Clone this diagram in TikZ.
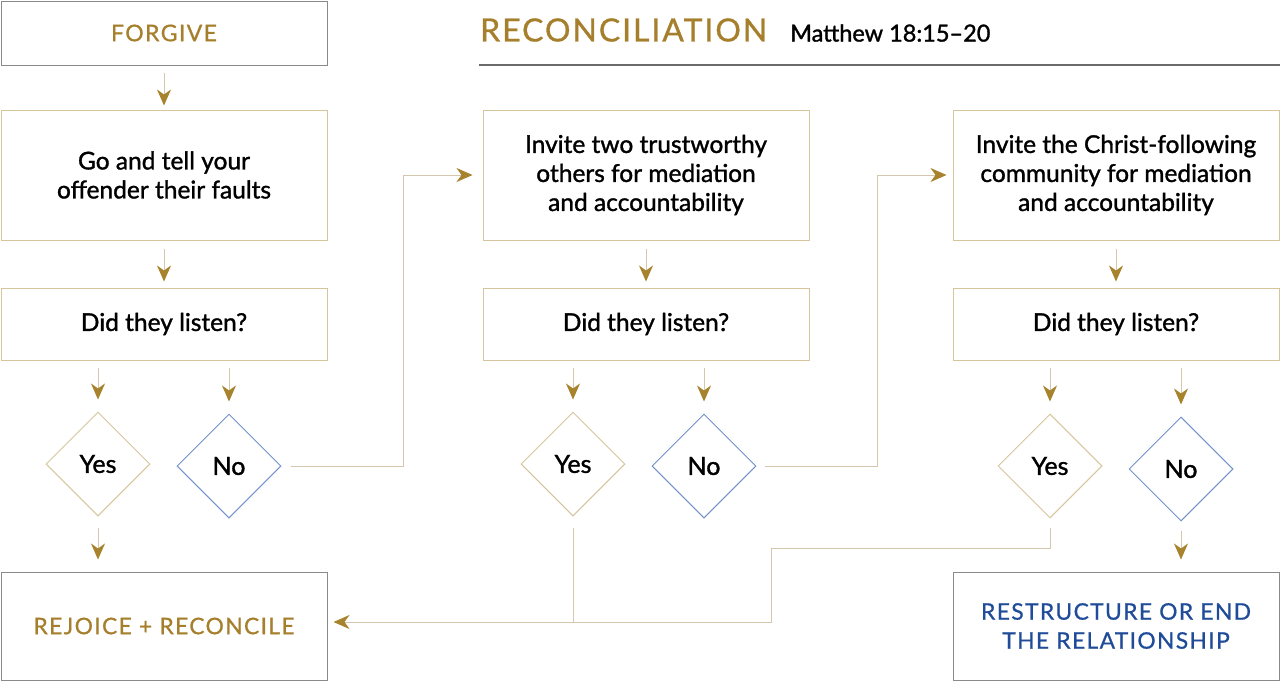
\documentclass[tikz,border=0pt]{standalone}
\usepackage{fontspec}
\setmainfont{Lato}
\newfontfamily\bodyfont[FakeBold=1.3,Ligatures=TeX]{Lato}
\newfontfamily\capsfont[LetterSpace=6,FakeBold=0.8,Ligatures=TeX]{Lato}
\usetikzlibrary{arrows.meta,shapes.geometric,calc}

\definecolor{goldtext}{HTML}{A67F2C}
\definecolor{goldtip}{HTML}{A8832E}
\definecolor{tanline}{HTML}{D6C49C}
\definecolor{linktan}{HTML}{D5C6AE}
\definecolor{framegray}{HTML}{8A8A8A}
\definecolor{rulegray}{HTML}{6A6A6A}
\definecolor{noblue}{HTML}{7391CC}
\definecolor{endblue}{HTML}{1F4B98}

\tikzset{
  box/.style={draw=tanline, line width=1pt, minimum width=326pt, inner sep=0pt,
    align=center, font=\bodyfont\fontsize{24.5}{29}\selectfont},
  endbox/.style={box, draw=framegray, minimum height=108pt,
    font=\capsfont\fontsize{22.8}{29}\selectfont},
  yesdiam/.style={diamond, draw=tanline, line width=1pt, aspect=1, inner sep=0pt,
    minimum width=104pt, minimum height=104pt, font=\bodyfont\fontsize{25}{28}\selectfont},
  nodiam/.style={yesdiam, draw=noblue},
  link/.style={draw=linktan, line width=1pt},
  flow/.style={link, -{Stealth[length=16pt,width=14pt,inset=5pt,color=goldtip]}}
}

\begin{document}
\begin{tikzpicture}[x=1pt,y=-1pt]
  \useasboundingbox (0,0) rectangle (1280,681);

  % heading
  \node[anchor=west, inner sep=0pt, text=goldtext,
    font=\capsfont\fontsize{32}{32}\selectfont] (title) at (480,30) {RECONCILIATION};
  \node[anchor=west, inner sep=0pt, font=\bodyfont\fontsize{23.5}{24}\selectfont] (verse) at (790,33) {Matthew 18:15–20};
  \draw[rulegray, line width=1.5pt] (479,65) -- (1280,65);

  % left column
  \node[box, draw=framegray, minimum height=64pt, text=goldtext,
    font=\capsfont\fontsize{23}{25}\selectfont] (forgive) at (164,33) {FORGIVE};
  \node[box, minimum height=130pt] (tell) at (164,175) {Go and tell your\\offender their faults};
  \node[box, minimum height=72pt] (ask1) at (164,324) {Did they listen?};
  \node[yesdiam] (yes1) at (98,464) {Yes};
  \node[nodiam] (no1) at (229,466) {No};
  \node[endbox, text=goldtext] (rejoice) at (164,626) {REJOICE + RECONCILE};

  % middle column
  \node[box, minimum height=130pt] (invite1) at (646,175) {Invite two trustworthy\\others for mediation\\and accountability};
  \node[box, minimum height=72pt] (ask2) at (646,324) {Did they listen?};
  \node[yesdiam] (yes2) at (573,464) {Yes};
  \node[nodiam] (no2) at (704,466) {No};

  % right column
  \node[box, minimum height=130pt] (invite2) at (1116,175) {Invite the Christ-following\\community for mediation\\and accountability};
  \node[box, minimum height=72pt] (ask3) at (1116,324) {Did they listen?};
  \node[yesdiam] (yes3) at (1050,466) {Yes};
  \node[nodiam] (no3) at (1181,469) {No};
  \node[endbox, text=endblue] (restructure) at (1116,626) {RESTRUCTURE OR END\\THE RELATIONSHIP};

  % downward steps
  \draw[flow] ($(forgive.south)+(0,7)$) -- ($(tell.north)+(0,-4)$);
  \draw[flow] ($(tell.south)+(0,8)$) -- ($(ask1.north)+(0,-6)$);
  \draw[flow] ($(invite1.south)+(0,8)$) -- ($(ask2.north)+(0,-6)$);
  \draw[flow] ($(invite2.south)+(0,8)$) -- ($(ask3.north)+(0,-6)$);
  \foreach \q/\d in {ask1/yes1,ask1/no1,ask2/yes2,ask2/no2,ask3/yes3,ask3/no3}
    \draw[flow] ($(\q.south -| \d.north)+(0,7)$) -- ($(\d.north)+(0,-12)$);
  \draw[flow] ($(yes1.south)+(0,11)$) -- ($(rejoice.north -| yes1.south)+(0,-12)$);
  \draw[flow] ($(no3.south)+(0,9)$) -- ($(restructure.north -| no3.south)+(0,-12)$);

  % escalation when they do not listen
  \draw[flow] ($(no1.east)+(9,0)$) -- ++(113,0) |- ($(invite1.west)+(-10,0)$);
  \draw[flow] ($(no2.east)+(8,0)$) -- ++(113,0) |- ($(invite2.west)+(-6,0)$);

  % back to reconciling
  \coordinate (merge) at (771,622);
  \draw[flow] ($(yes2.south)+(0,11)$) |- ($(rejoice.east)+(6,-4)$);
  \draw[link] ($(yes3.south)+(0,9)$) -- ++(0,21) -| (merge) -- (merge -| yes2.south);
\end{tikzpicture}
\end{document}
